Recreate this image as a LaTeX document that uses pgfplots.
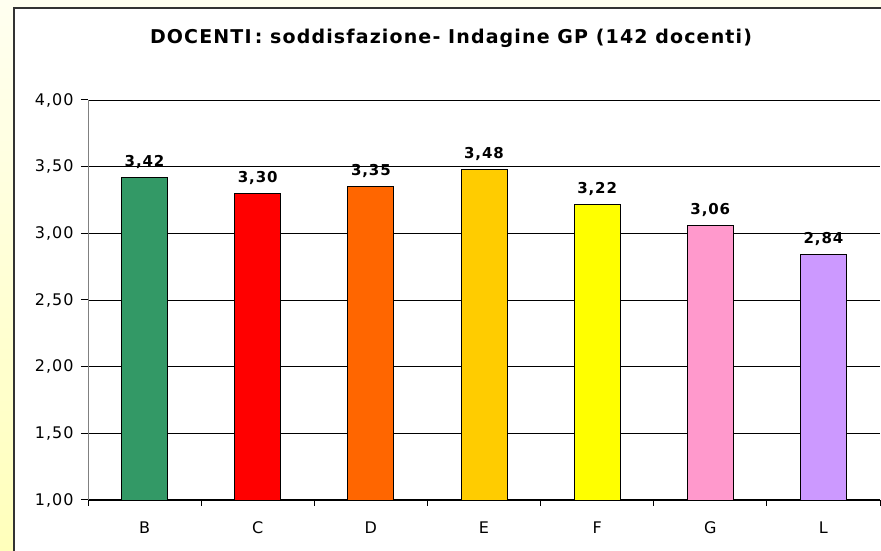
\documentclass[border=0pt]{standalone}
\usepackage{pgfplots}
\pgfplotsset{compat=1.18}
\usepackage{fontspec}
\setmainfont{DejaVu Sans}[LetterSpace=6]
\definecolor{cB}{HTML}{339966}
\definecolor{cC}{HTML}{FF0000}
\definecolor{cD}{HTML}{FF6600}
\definecolor{cE}{HTML}{FFCC00}
\definecolor{cF}{HTML}{FFFF00}
\definecolor{cG}{HTML}{FF99CC}
\definecolor{cL}{HTML}{CC99FF}
\definecolor{bgtop}{HTML}{FFFFF0}
\definecolor{bgbot}{HTML}{FFFFBB}
\definecolor{frame}{HTML}{333333}
\begin{document}
\begin{tikzpicture}[x=1pt,y=1pt]
\path[use as bounding box] (0,0) rectangle (881,551);
\begin{scope}
\clip (0,0) rectangle (881,551);
\shade[top color=bgtop, bottom color=bgbot] (0,0) rectangle (881,551);
\fill[white] (14,-5) rectangle (890,543);
\draw[frame, line width=2pt] (14,-5) -- (14,543) -- (890,543);
\end{scope}
\node[font=\bfseries\fontsize{19}{22}\selectfont] at (451,513) {DOCENTI\,: soddisfazione- Indagine GP (142 docenti)};
\begin{axis}[
  at={(88pt,51pt)}, anchor=south west,
  width=792pt, height=400pt, scale only axis,
  xmin=-0.5, xmax=6.5, ymin=1, ymax=4,
  ytick={1,1.5,2,2.5,3,3.5,4},
  axis x line*=bottom, axis y line*=left,
  x axis line style={black, line width=1pt},
  y axis line style={gray, line width=1pt},
  ymajorgrids, grid style={black, line width=0.9pt},
  tick align=outside,
  xtick={0,1,2,3,4,5,6},
  xticklabels={B,C,D,E,F,G,L},
  minor xtick={-0.5,0.5,1.5,2.5,3.5,4.5,5.5,6.5},
  major tick length=7pt, minor tick length=6pt,
  x tick style={draw=none},
  minor x tick style={draw=black, line width=1pt},
  y tick style={black, line width=1pt},
  /pgf/number format/assume math mode=true,
  tick label style={font=\fontsize{16}{19}\selectfont},
  yticklabel style={xshift=-4pt, /pgf/number format/.cd, fixed, fixed zerofill, precision=2, use comma},
  xticklabel style={yshift=-11pt},
  ybar, bar width=46pt,
  every axis plot/.append style={draw=black, line width=0.8pt, bar shift=0pt},
  nodes near coords={\pgfmathprintnumber[fixed,fixed zerofill,precision=2,use comma,assume math mode=true]{\pgfplotspointmeta}},
  every node near coord/.append style={font=\bfseries\fontsize{15}{18}\selectfont, black, yshift=5pt},
  clip=false,
]
\addplot[fill=cB] coordinates {(0,3.42)};
\addplot[fill=cC] coordinates {(1,3.30)};
\addplot[fill=cD] coordinates {(2,3.35)};
\addplot[fill=cE] coordinates {(3,3.48)};
\addplot[fill=cF] coordinates {(4,3.22)};
\addplot[fill=cG] coordinates {(5,3.06)};
\addplot[fill=cL] coordinates {(6,2.84)};
\end{axis}
\end{tikzpicture}
\end{document}
